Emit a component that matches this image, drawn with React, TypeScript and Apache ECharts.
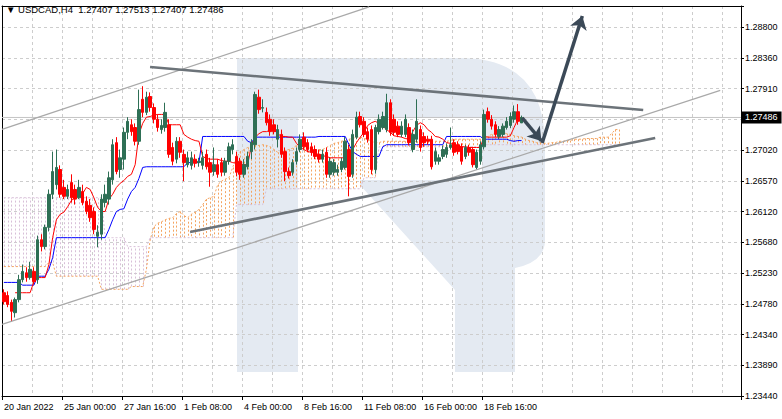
import React, { useEffect, useRef } from 'react';
import * as echarts from 'echarts';

// ---------- data ----------
const SLOTS = 197; // bar slots on the time axis (history + future space)
const categories = Array.from({ length: SLOTS }, (_, i) => String(i));

const xTickLabels = ['20 Jan 2022', '25 Jan 00:00', '27 Jan 16:00', '1 Feb 08:00', '4 Feb 00:00', '8 Feb 16:00', '11 Feb 08:00', '16 Feb 00:00', '18 Feb 16:00'];
const yTickLabels = ['1.23440', '1.23890', '1.24340', '1.24780', '1.25230', '1.25680', '1.26120', '1.26570', '1.27020', '', '1.27910', '1.28360', '1.28800'];

const lastPrice = 1.27486;
const titleText = '▼ USDCAD,H4  1.27407 1.27513 1.27407 1.27486';

// [open, close, low, high]
const candles = [
  [1.2494, 1.2481, 1.2477, 1.2499], [1.2490, 1.2477, 1.2473, 1.2496], [1.2480, 1.2467, 1.2452, 1.2484], [1.2465, 1.2484, 1.2458, 1.2487],
  [1.2484, 1.2513, 1.2480, 1.2520], [1.2513, 1.2525, 1.2509, 1.2535], [1.2523, 1.2516, 1.2510, 1.2531], [1.2516, 1.2528, 1.2513, 1.2539],
  [1.2525, 1.2510, 1.2506, 1.2531], [1.2513, 1.2571, 1.2507, 1.2577], [1.2571, 1.2561, 1.2554, 1.2579], [1.2561, 1.2589, 1.2557, 1.2593],
  [1.2589, 1.2637, 1.2583, 1.2644], [1.2637, 1.2670, 1.2630, 1.2699], [1.2651, 1.2676, 1.2644, 1.2702], [1.2673, 1.2637, 1.2632, 1.2679],
  [1.2647, 1.2634, 1.2630, 1.2658], [1.2634, 1.2644, 1.2630, 1.2651], [1.2654, 1.2632, 1.2625, 1.2666], [1.2644, 1.2630, 1.2622, 1.2651],
  [1.2632, 1.2647, 1.2630, 1.2658], [1.2641, 1.2625, 1.2621, 1.2651], [1.2627, 1.2612, 1.2608, 1.2634], [1.2621, 1.2603, 1.2597, 1.2630],
  [1.2612, 1.2586, 1.2579, 1.2618], [1.2576, 1.2582, 1.2560, 1.2592], [1.2579, 1.2630, 1.2571, 1.2637], [1.2625, 1.2637, 1.2618, 1.2651],
  [1.2630, 1.2661, 1.2622, 1.2670], [1.2658, 1.2709, 1.2651, 1.2717], [1.2712, 1.2670, 1.2666, 1.2720], [1.2673, 1.2690, 1.2661, 1.2702],
  [1.2688, 1.2727, 1.2673, 1.2734], [1.2727, 1.2743, 1.2717, 1.2749], [1.2738, 1.2728, 1.2722, 1.2746], [1.2734, 1.2714, 1.2708, 1.2740],
  [1.2714, 1.2760, 1.2709, 1.2789], [1.2775, 1.2756, 1.2749, 1.2794], [1.2756, 1.2778, 1.2752, 1.2786], [1.2779, 1.2763, 1.2757, 1.2785],
  [1.2763, 1.2746, 1.2740, 1.2769], [1.2746, 1.2734, 1.2728, 1.2753], [1.2731, 1.2737, 1.2725, 1.2746], [1.2734, 1.2756, 1.2728, 1.2770],
  [1.2738, 1.2695, 1.2690, 1.2746], [1.2705, 1.2685, 1.2679, 1.2712], [1.2688, 1.2714, 1.2682, 1.2720], [1.2714, 1.2698, 1.2690, 1.2720],
  [1.2695, 1.2683, 1.2656, 1.2702], [1.2680, 1.2690, 1.2676, 1.2699], [1.2679, 1.2690, 1.2673, 1.2699], [1.2688, 1.2682, 1.2676, 1.2695],
  [1.2683, 1.2685, 1.2677, 1.2690], [1.2679, 1.2690, 1.2673, 1.2699], [1.2695, 1.2677, 1.2673, 1.2702], [1.2683, 1.2669, 1.2648, 1.2690],
  [1.2670, 1.2680, 1.2664, 1.2705], [1.2680, 1.2666, 1.2661, 1.2688], [1.2683, 1.2669, 1.2663, 1.2690], [1.2669, 1.2685, 1.2664, 1.2690],
  [1.2685, 1.2706, 1.2680, 1.2712], [1.2702, 1.2709, 1.2695, 1.2717], [1.2692, 1.2669, 1.2663, 1.2699], [1.2685, 1.2666, 1.2658, 1.2690],
  [1.2666, 1.2680, 1.2661, 1.2688], [1.2677, 1.2692, 1.2673, 1.2699], [1.2699, 1.2712, 1.2688, 1.2717], [1.2709, 1.2782, 1.2702, 1.2786],
  [1.2778, 1.2760, 1.2754, 1.2789], [1.2762, 1.2763, 1.2756, 1.2775], [1.2756, 1.2741, 1.2737, 1.2763], [1.2746, 1.2728, 1.2722, 1.2753],
  [1.2738, 1.2728, 1.2724, 1.2746], [1.2717, 1.2731, 1.2705, 1.2738], [1.2724, 1.2695, 1.2690, 1.2731], [1.2699, 1.2670, 1.2656, 1.2705],
  [1.2670, 1.2664, 1.2660, 1.2676], [1.2669, 1.2683, 1.2664, 1.2688], [1.2685, 1.2699, 1.2680, 1.2705], [1.2702, 1.2717, 1.2698, 1.2724],
  [1.2720, 1.2706, 1.2702, 1.2727], [1.2712, 1.2702, 1.2698, 1.2717], [1.2706, 1.2698, 1.2693, 1.2712], [1.2702, 1.2692, 1.2688, 1.2708],
  [1.2695, 1.2688, 1.2683, 1.2702], [1.2688, 1.2695, 1.2683, 1.2702], [1.2698, 1.2666, 1.2661, 1.2705], [1.2666, 1.2685, 1.2661, 1.2690],
  [1.2669, 1.2683, 1.2664, 1.2688], [1.2669, 1.2673, 1.2664, 1.2680], [1.2673, 1.2685, 1.2669, 1.2690], [1.2676, 1.2714, 1.2673, 1.2720],
  [1.2702, 1.2663, 1.2634, 1.2709], [1.2666, 1.2724, 1.2661, 1.2731], [1.2720, 1.2749, 1.2717, 1.2757], [1.2750, 1.2738, 1.2734, 1.2757],
  [1.2743, 1.2724, 1.2720, 1.2749], [1.2728, 1.2717, 1.2712, 1.2734], [1.2731, 1.2673, 1.2666, 1.2737], [1.2673, 1.2734, 1.2667, 1.2738],
  [1.2728, 1.2746, 1.2724, 1.2753], [1.2734, 1.2750, 1.2731, 1.2757], [1.2731, 1.2770, 1.2727, 1.2783], [1.2770, 1.2727, 1.2722, 1.2775],
  [1.2746, 1.2727, 1.2722, 1.2753], [1.2736, 1.2724, 1.2720, 1.2743], [1.2724, 1.2736, 1.2720, 1.2743], [1.2724, 1.2746, 1.2720, 1.2753],
  [1.2734, 1.2712, 1.2708, 1.2740], [1.2702, 1.2724, 1.2698, 1.2731], [1.2717, 1.2743, 1.2712, 1.2775], [1.2731, 1.2705, 1.2699, 1.2737],
  [1.2721, 1.2712, 1.2706, 1.2727], [1.2717, 1.2714, 1.2709, 1.2722], [1.2717, 1.2677, 1.2673, 1.2722], [1.2685, 1.2699, 1.2680, 1.2705],
  [1.2685, 1.2690, 1.2680, 1.2695], [1.2692, 1.2702, 1.2688, 1.2708], [1.2695, 1.2705, 1.2690, 1.2711], [1.2705, 1.2709, 1.2702, 1.2734],
  [1.2712, 1.2698, 1.2693, 1.2717], [1.2709, 1.2699, 1.2695, 1.2714], [1.2706, 1.2685, 1.2680, 1.2711], [1.2692, 1.2705, 1.2688, 1.2709],
  [1.2705, 1.2698, 1.2693, 1.2709], [1.2702, 1.2680, 1.2676, 1.2706], [1.2676, 1.2698, 1.2673, 1.2702], [1.2685, 1.2709, 1.2680, 1.2714],
  [1.2706, 1.2753, 1.2702, 1.2760], [1.2757, 1.2746, 1.2741, 1.2763], [1.2746, 1.2736, 1.2731, 1.2752], [1.2738, 1.2724, 1.2720, 1.2743],
  [1.2721, 1.2731, 1.2717, 1.2736], [1.2724, 1.2736, 1.2720, 1.2740], [1.2734, 1.2743, 1.2731, 1.2749], [1.2737, 1.2750, 1.2733, 1.2756],
  [1.2746, 1.2757, 1.2741, 1.2766], [1.2757, 1.2743, 1.2738, 1.2768], [1.27407, 1.27486, 1.27407, 1.27513],
];

const tenkan = [
  null, null, null,
  1.2494, 1.2494, 1.2494, 1.2494, 1.2494, 1.2510, 1.2516, 1.2516, 1.2516,
  1.2535, 1.2574, 1.2600, 1.2608, 1.2611, 1.2619, 1.2628, 1.2632, 1.2635, 1.2638,
  1.2647, 1.2644, 1.2632, 1.2618, 1.2612, 1.2612, 1.2630, 1.2637, 1.2647, 1.2653,
  1.2657, 1.2663, 1.2666, 1.2680, 1.2724, 1.2740, 1.2749, 1.2750, 1.2752, 1.2753,
  1.2753, 1.2753, 1.2738, 1.2738, 1.2738, 1.2738, 1.2724, 1.2720, 1.2717, 1.2715,
  1.2714, 1.2692, 1.2689, 1.2688, 1.2688, 1.2688, 1.2686, 1.2685, 1.2685, 1.2683,
  1.2682, 1.2680, 1.2680, 1.2680, 1.2709, 1.2720, 1.2725, 1.2728, 1.2728, 1.2730,
  1.2731, 1.2725, 1.2721, 1.2721, 1.2720, 1.2720, 1.2711, 1.2705, 1.2702, 1.2699,
  1.2698, 1.2696, 1.2695, 1.2693, 1.2692, 1.2690, 1.2690, 1.2690, 1.2690, 1.2690,
  1.2688, 1.2702, 1.2712, 1.2720, 1.2727, 1.2737, 1.2741, 1.2743, 1.2740, 1.2736,
  1.2731, 1.2727, 1.2722, 1.2721, 1.2720, 1.2718, 1.2717, 1.2728, 1.2737, 1.2741,
  1.2738, 1.2731, 1.2727, 1.2721, 1.2720, 1.2717, 1.2712, 1.2711, 1.2709, 1.2708,
  1.2706, 1.2706, 1.2705, 1.2705, 1.2705, 1.2705, 1.2721, 1.2720, 1.2720, 1.2720,
  1.2720, 1.2720, 1.2720, 1.2722, 1.2734, 1.2746, 1.2749,
];

const kijun = [
  1.2509, 1.2509, 1.2509, 1.2509, 1.2509, 1.2505, 1.2505, 1.2505, 1.2505, 1.2518,
  1.2518, 1.2518, 1.2528, 1.2545, 1.2574, 1.2574, 1.2574, 1.2574, 1.2574, 1.2574,
  1.2574, 1.2574, 1.2574, 1.2574, 1.2574, 1.2574, 1.2574, 1.2574, 1.2586, 1.2600,
  1.2612, 1.2615, 1.2616, 1.2630, 1.2641, 1.2647, 1.2660, 1.2676, 1.2677, 1.2677,
  1.2677, 1.2677, 1.2677, 1.2677, 1.2677, 1.2677, 1.2677, 1.2677, 1.2677, 1.2683,
  1.2683, 1.2683, 1.2683, 1.2721, 1.2721, 1.2721, 1.2721, 1.2721, 1.2721, 1.2721,
  1.2721, 1.2721, 1.2721, 1.2721, 1.2721, 1.2714, 1.2712, 1.2720, 1.2720, 1.2720,
  1.2720, 1.2720, 1.2720, 1.2720, 1.2720, 1.2720, 1.2720, 1.2720, 1.2720, 1.2720,
  1.2720, 1.2720, 1.2720, 1.2720, 1.2721, 1.2721, 1.2721, 1.2721, 1.2721, 1.2721,
  1.2721, 1.2721, 1.2709, 1.2699, 1.2695, 1.2692, 1.2692, 1.2692, 1.2692, 1.2692,
  1.2692, 1.2706, 1.2709, 1.2709, 1.2709, 1.2709, 1.2709, 1.2709, 1.2709, 1.2709,
  1.2709, 1.2709, 1.2709, 1.2709, 1.2709, 1.2709, 1.2709, 1.2709, 1.2721, 1.2721,
  1.2721, 1.2721, 1.2721, 1.2721, 1.2721, 1.2721, 1.2721, 1.2721, 1.2717, 1.2717,
  1.2717, 1.2717, 1.2717, 1.2717, 1.2717, 1.2715, 1.2714, 1.2715, 1.2715,
];

const spanA = [
  1.2532, 1.2532, 1.2532, 1.2532, 1.2532, 1.2532, 1.2532, 1.2532, 1.2532, 1.2532,
  1.2532, 1.2532, 1.2538, 1.2538, 1.2518, 1.2518, 1.2518, 1.2518, 1.2518, 1.2518,
  1.2518, 1.2518, 1.2518, 1.2518, 1.2518, 1.2518, 1.2499, 1.2499, 1.2499, 1.2499,
  1.2499, 1.2499, 1.2499, 1.2499, 1.2503, 1.2503, 1.2503, 1.2503,
  1.2528, 1.2571, 1.2590, 1.2595, 1.2597, 1.2600, 1.2602, 1.2603, 1.2609, 1.2612,
  1.2606, 1.2603, 1.2608, 1.2611, 1.2615, 1.2622, 1.2630, 1.2632, 1.2634, 1.2651,
  1.2656, 1.2659, 1.2661, 1.2676, 1.2690, 1.2699, 1.2702, 1.2705, 1.2706, 1.2708,
  1.2708, 1.2709, 1.2708, 1.2706, 1.2702, 1.2698, 1.2699, 1.2701, 1.2702, 1.2704,
  1.2708, 1.2711, 1.2712, 1.2706, 1.2702, 1.2702, 1.2702, 1.2702, 1.2705, 1.2708,
  1.2711, 1.2712, 1.2714, 1.2715, 1.2717, 1.2718, 1.2720, 1.2720, 1.2718, 1.2717,
  1.2714, 1.2712, 1.2712,
  1.2714, 1.2714, 1.2714, 1.2714, 1.2714, 1.2714, 1.2714, 1.2714, 1.2714, 1.2714,
  1.2714, 1.2714, 1.2714, 1.2714, 1.2714, 1.2714, 1.2714, 1.2714,
  1.2715, 1.2717, 1.2717, 1.2717, 1.2717, 1.2717, 1.2717, 1.2717, 1.2717,
  1.2718, 1.2721, 1.2724, 1.2725, 1.2727, 1.2727, 1.2725, 1.2724, 1.2722, 1.2721,
  1.2720, 1.2717, 1.2715, 1.2714, 1.2712, 1.2712, 1.2711, 1.2711, 1.2712, 1.2712,
  1.2714, 1.2714, 1.2715, 1.2715, 1.2717, 1.2717, 1.2717, 1.2718, 1.2718, 1.2718,
  1.2718, 1.2720, 1.2720, 1.2720, 1.2725, 1.2731, 1.2731,
];

const spanB = [
  1.2632, 1.2632, 1.2632, 1.2632, 1.2632, 1.2632, 1.2632, 1.2632, 1.2632, 1.2632,
  1.2632, 1.2632, 1.2632, 1.2632, 1.2632, 1.2632, 1.2632, 1.2632, 1.2632, 1.2632,
  1.2632, 1.2632, 1.2632, 1.2632, 1.2632, 1.2632, 1.2632,
  1.2574, 1.2574, 1.2574, 1.2574, 1.2574, 1.2574,
  1.2561, 1.2561, 1.2561, 1.2561, 1.2561, 1.2561,
  1.2574, 1.2574, 1.2574, 1.2574, 1.2574, 1.2574, 1.2574, 1.2574, 1.2574, 1.2574,
  1.2574, 1.2574, 1.2574, 1.2574, 1.2574, 1.2574, 1.2574, 1.2574, 1.2574, 1.2574,
  1.2574, 1.2574, 1.2574,
  1.2622, 1.2622, 1.2622, 1.2622, 1.2622, 1.2622, 1.2622, 1.2622,
  1.2645, 1.2645, 1.2645, 1.2645, 1.2645, 1.2645, 1.2645, 1.2645, 1.2645, 1.2645,
  1.2645, 1.2645, 1.2645, 1.2645, 1.2645, 1.2645, 1.2645, 1.2645, 1.2645, 1.2645,
  1.2645, 1.2645, 1.2645, 1.2645, 1.2645, 1.2645,
  1.2661, 1.2661, 1.2661, 1.2661,
  1.2706, 1.2706, 1.2706, 1.2706, 1.2706, 1.2706, 1.2706, 1.2706, 1.2706, 1.2706,
  1.2706, 1.2706, 1.2706, 1.2706, 1.2706, 1.2706, 1.2706, 1.2706, 1.2706, 1.2706,
  1.2706, 1.2706, 1.2706, 1.2706, 1.2706, 1.2706, 1.2706, 1.2706,
  1.2709, 1.2709, 1.2709, 1.2709, 1.2709, 1.2709, 1.2709, 1.2709, 1.2709, 1.2709,
  1.2709, 1.2709, 1.2709, 1.2709, 1.2709, 1.2709, 1.2709, 1.2709, 1.2709, 1.2709,
  1.2709, 1.2709, 1.2709, 1.2709, 1.2709, 1.2709, 1.2709, 1.2709, 1.2709, 1.2709,
  1.2709, 1.2709, 1.2709, 1.2709, 1.2709, 1.2709, 1.2709,
];

// analyst drawings: [bar position, price] end points
const channelLines = [
  [[-0.5, 1.27314], [97.37, 1.29091]],
  [[-0.5, 1.24482], [190.97, 1.27878]],
];
const triangleLines = [
  [[38.97, 1.28219], [170.43, 1.27594]],
  [[49.63, 1.25822], [173.63, 1.27188]],
];
const forecastArrows = [
  [[138.17, 1.2748], [143.3, 1.27145]],
  [[143.5, 1.27115], [154.2, 1.28960]],
];
const priceLine = [[-0.5, lastPrice], [SLOTS - 0.5, lastPrice]];

// ---------- styling ----------
const FONT = '"Liberation Sans", Arial, "DejaVu Sans", sans-serif';
const LOGO_PATH = 'M237 58 H460 Q545 58 545 145 V240 Q545 262 515 268 V372 H455 V290 L360 185 V180 H482 V118 H298 V372 H237 Z';
echarts.graphic.registerShape('rfLogo', echarts.graphic.extendPath(LOGO_PATH, {}));

const Y_MIN = 1.2344;
const Y_MAX = 1.29105;
const LABEL_AXIS_MAX = 12.683;

function buildOption() {
  const xLabelAt = (i: number) => i % 16 === 0 && i / 16 < xTickLabels.length;
  const cloud = spanA.map((a, i) => [i, a, spanB[i]]);
  return {
    animation: false,
    backgroundColor: '#ffffff',
    title: {
      text: titleText, left: 6, top: 4, padding: 0,
      textStyle: { fontSize: 9.5, fontWeight: 'normal', color: '#000', fontFamily: FONT },
    },
    graphic: [
      { type: 'rfLogo', x: 0, y: 0, z: -10, silent: true, style: { fill: '#e4eaf2' } },
    ],
    grid: { left: 2, right: 41, top: 6, bottom: 23 },
    xAxis: [
      {
        type: 'category', data: categories, boundaryGap: true,
        axisLine: { show: true, lineStyle: { color: '#000', width: 1 } },
        axisTick: { show: true, interval: (i: number) => xLabelAt(i), length: 4, lineStyle: { color: '#000' } },
        axisLabel: {
          interval: (i: number) => xLabelAt(i),
          formatter: (_v: string, i: number) => (xLabelAt(i) ? xTickLabels[i / 16] : ''),
          align: 'left', fontSize: 9, color: '#000', margin: 6, fontFamily: FONT,
        },
        splitLine: { show: true, interval: (i: number) => i > 0 && i % 8 === 0, lineStyle: { color: '#cdcdcd', type: [3, 3], width: 1 } },
      },
      {
        type: 'value', min: -0.5, max: SLOTS - 0.5, position: 'top',
        axisLine: { show: true, onZero: false, lineStyle: { color: '#000', width: 1 } },
        axisTick: { show: false }, axisLabel: { show: false }, splitLine: { show: false },
      },
    ],
    yAxis: [
      {
        type: 'value', min: Y_MIN, max: Y_MAX, position: 'left',
        axisLine: { show: true, onZero: false, lineStyle: { color: '#000', width: 1 } },
        axisTick: { show: false }, axisLabel: { show: false }, splitLine: { show: false },
      },
      {
        type: 'value', min: 0, max: LABEL_AXIS_MAX, interval: 1, position: 'right',
        axisLine: { show: true, onZero: false, lineStyle: { color: '#000', width: 1 } },
        axisTick: { show: true, length: 3, lineStyle: { color: '#000' } },
        axisLabel: {
          formatter: (v: number) => {
            const k = Math.round(v);
            return Math.abs(v - k) < 1e-6 && yTickLabels[k] !== undefined ? yTickLabels[k] : '';
          },
          fontSize: 9, color: '#000', margin: 4, fontFamily: FONT,
        },
        splitLine: { show: true, lineStyle: { color: '#cdcdcd', type: [3, 3], width: 1 } },
      },
    ],
    series: [
      {
        type: 'line', name: 'price line', data: priceLine, xAxisIndex: 1, yAxisIndex: 0, z: 1, silent: true,
        showSymbol: false, lineStyle: { color: '#c4c4c4', width: 1 },
        endLabel: {
          show: true, formatter: () => lastPrice.toFixed(5), distance: 1,
          color: '#ffffff', backgroundColor: '#000000', padding: [2, 4, 1, 3], fontSize: 9, fontFamily: FONT,
        },
      },
      {
        type: 'custom', name: 'cloud', xAxisIndex: 0, yAxisIndex: 0, z: 1, silent: true, clip: true,
        data: cloud,
        encode: { x: 0, y: [1, 2] },
        renderItem: (_p: any, api: any) => {
          const i = api.value(0);
          const a = api.value(1);
          const b = api.value(2);
          const p1 = api.coord([i, a]);
          const p2 = api.coord([i, b]);
          const x = Math.round(p1[0]) + 0.5;
          return {
            type: 'line',
            shape: { x1: x, y1: p1[1], x2: x, y2: p2[1] },
            style: { stroke: a >= b ? '#f4a460' : '#d8bfd8', lineWidth: 1, lineDash: [2, 2] },
          };
        },
      },
      {
        type: 'line', name: 'Senkou A', data: spanA, xAxisIndex: 0, yAxisIndex: 0, z: 2, silent: true,
        showSymbol: false, lineStyle: { color: '#f4a460', width: 1, type: [2, 2] },
      },
      {
        type: 'line', name: 'Senkou B', data: spanB, xAxisIndex: 0, yAxisIndex: 0, z: 2, silent: true,
        showSymbol: false, lineStyle: { color: '#d8bfd8', width: 1, type: [2, 2] },
      },
      {
        type: 'line', name: 'Kijun', data: kijun, xAxisIndex: 0, yAxisIndex: 0, z: 3, silent: true,
        showSymbol: false, lineStyle: { color: '#0000ff', width: 1 },
      },
      {
        type: 'line', name: 'Tenkan', data: tenkan, xAxisIndex: 0, yAxisIndex: 0, z: 3, silent: true,
        showSymbol: false, lineStyle: { color: '#ff0000', width: 1 },
      },
      {
        type: 'candlestick', name: 'USDCAD', data: candles, xAxisIndex: 0, yAxisIndex: 0, z: 4,
        barWidth: 3,
        itemStyle: { color: '#2e6f55', color0: '#ff0000', borderColor: '#2e6f55', borderColor0: '#ff0000', borderWidth: 1 },
      },
      {
        type: 'lines', coordinateSystem: 'cartesian2d', xAxisIndex: 1, yAxisIndex: 0, z: 5, silent: true,
        data: channelLines.map((c) => ({ coords: c })),
        lineStyle: { color: '#a9a9a9', width: 1.3, opacity: 1 },
      },
      {
        type: 'lines', coordinateSystem: 'cartesian2d', xAxisIndex: 1, yAxisIndex: 0, z: 5, silent: true,
        data: triangleLines.map((c) => ({ coords: c })),
        lineStyle: { color: '#6c7379', width: 2.6, opacity: 1 },
      },
      {
        type: 'lines', coordinateSystem: 'cartesian2d', xAxisIndex: 1, yAxisIndex: 0, z: 6, silent: true,
        symbol: ['none', 'arrow'], symbolSize: 13,
        data: forecastArrows.map((c) => ({ coords: c })),
        lineStyle: { color: '#3b4957', width: 3.5, opacity: 1 },
      },
    ],
  };
}

export default function App() {
  const ref = useRef<HTMLDivElement>(null);
  useEffect(() => {
    document.body.style.margin = '0';
    if (!ref.current) return;
    const chart = echarts.init(ref.current, null, { renderer: 'svg' });
    chart.setOption(buildOption() as any);
    return () => chart.dispose();
  }, []);
  return <div ref={ref} style={{ width: 782, height: 419 }} />;
}
